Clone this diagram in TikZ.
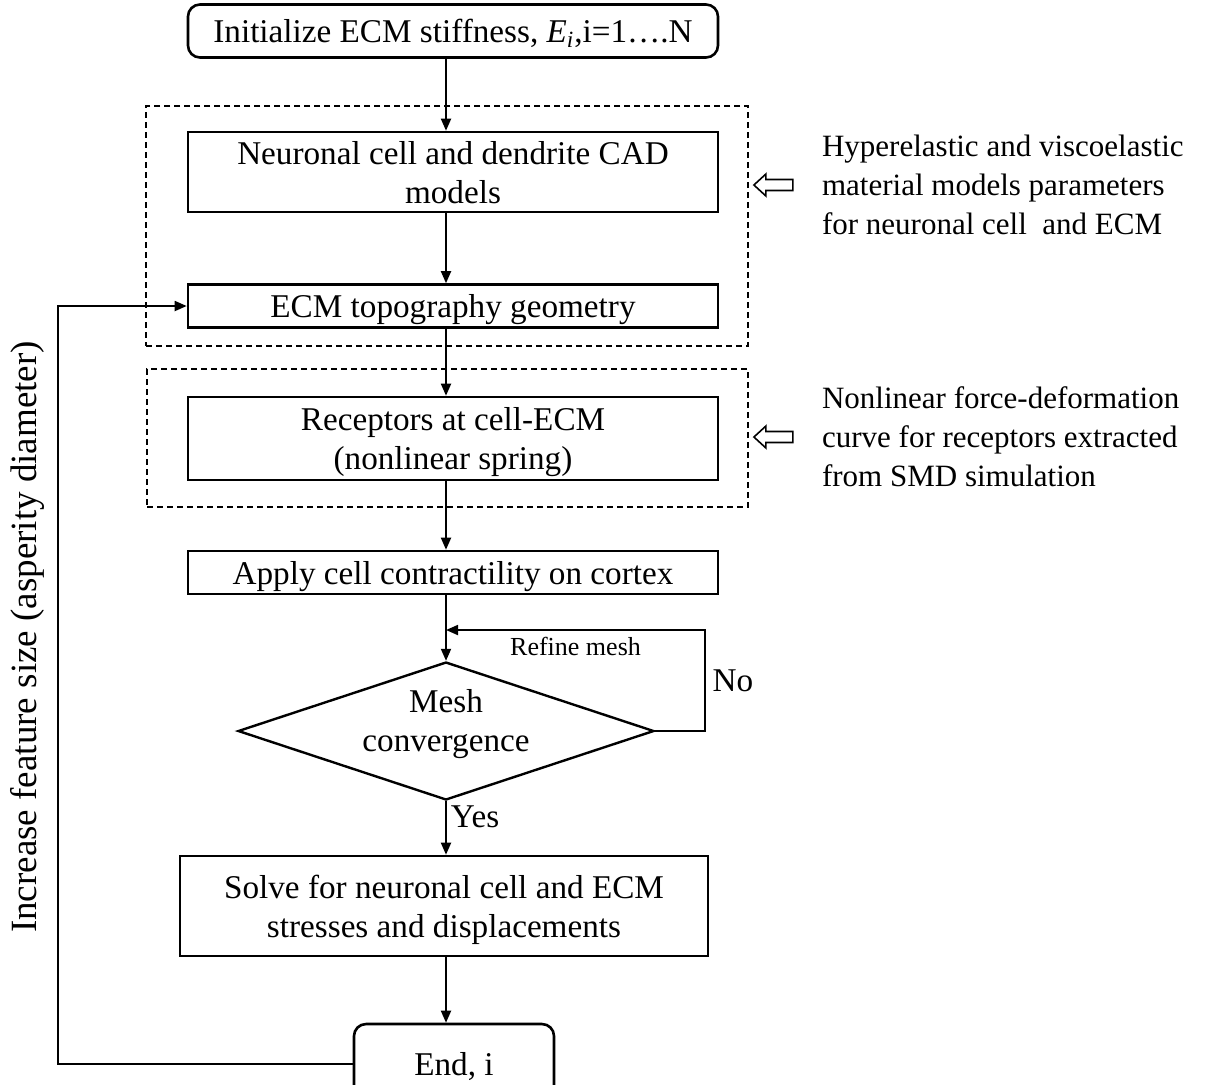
\documentclass[tikz,border=0pt]{standalone}
\usepackage{fontspec}
\setmainfont{Liberation Serif}
\usetikzlibrary{positioning,arrows.meta,shapes.geometric}

\begin{document}
\begin{tikzpicture}[x=0.5pt,y=-0.5pt,
  font=\fontsize{16.6}{19.5}\selectfont,
  stepbox/.style={
    draw,
    line width=1.3pt,
    align=center,
    inner sep=0pt,
    text depth=0pt,
    minimum width=265pt
  },
  endbox/.style={stepbox, rounded corners=6pt},
  group/.style={
    draw,
    line width=0.9pt,
    dash pattern=on 3pt off 2pt,
    inner sep=0pt
  },
  decision/.style={
    diamond,
    draw,
    line width=1.2pt,
    inner sep=0pt,
    shape aspect=3,
    minimum width=208pt,
    minimum height=69pt
  },
  note/.style={anchor=west, align=left, font=\fontsize{15.5}{19.5}\selectfont},
  flow/.style={-{Triangle[length=6pt,width=5pt]}, line width=0.9pt},
  hollow/.style={draw, line width=0.8pt, line join=miter}
]
  \useasboundingbox (0,0) rectangle (1224,1084);
  % helper points for the connectors
  \coordinate (axis) at (446,0);
  \coordinate (back) at (58,0);
  \coordinate (loop) at (705,630);
  \coordinate (join) at (446,630);

  % dashed groups
  \node[group, minimum width=301pt, minimum height=120pt] (grpA) at (447,226) {};
  \node[group, minimum width=300.5pt, minimum height=69pt] (grpB) at (447.5,438) {};

  % main column
  \node[endbox, minimum height=26.5pt] (init) at (453,31)
    {Initialize ECM stiffness, \textit{E}\textsubscript{\textit{i}},i=1….N};
  \node[stepbox, minimum height=40pt] (cad) at (453,172)
    {Neuronal cell and dendrite CAD\\models};
  \node[stepbox, minimum height=21.5pt] (topo) at (453,306)
    {ECM topography geometry};
  \node[stepbox, minimum height=41.5pt] (recep) at (453,438.5)
    {Receptors at cell-ECM\\(nonlinear spring)};
  \node[stepbox, minimum height=21.5pt] (apply) at (453,572.5)
    {Apply cell contractility on cortex};
  \node[decision] (mesh) at (446,731)
    {\raisebox{-1pt}[0pt][0pt]{\begin{tabular}{@{}c@{}}Mesh\\convergence\end{tabular}}};
  \node[stepbox, minimum width=264pt, minimum height=50pt] (solve) at (444,906)
    {Solve for neuronal cell and ECM\\stresses and displacements};
  \node[endbox, minimum width=100pt, minimum height=40pt] (end) at (454,1064) {End, i};

  % side notes
  \node[note] (hyper) at (815,185)
    {Hyperelastic and viscoelastic\\material models parameters\\for neuronal cell~ and ECM};
  \node[note] (nonlin) at (815,437)
    {Nonlinear force-deformation\\curve for receptors extracted\\from SMD simulation};
  \node[rotate=90, font=\fontsize{18.5}{22}\selectfont] (incr) at (27,637)
    {Increase feature size (asperity diameter)};

  \draw[flow] (init.south -| axis) -- (cad.north -| axis);
  \draw[flow] (cad.south -| axis) -- (topo.north -| axis);
  \draw[flow] (topo.south -| axis) -- (recep.north -| axis);
  \draw[flow] (recep.south -| axis) -- (apply.north -| axis);
  \draw[flow] (apply.south -| axis) -- (mesh.north);
  \draw[flow] (mesh.south) -- node[right, pos=0.3, inner sep=2pt] (yes) {Yes} (solve.north -| mesh);
  \draw[flow] (solve.south -| axis) -- (end.north -| axis);
  \draw[flow] (mesh.east) -| node[pos=0.75, right] (no) {No} (loop)
    -- node[below, font=\fontsize{13}{15}\selectfont] (refine) {Refine mesh} (join);
  \draw[flow] (end.west) -- (end.west -| back) |- (topo.west);

  % hollow input arrows
  \path[hollow] ([xshift=2.5pt]grpA.east |- hyper.west) -- ++(12,-11) -- ++(0,5.5) -- ++(27,0)
    -- ++(0,11) -- ++(-27,0) -- ++(0,5.5) -- cycle;
  \path[hollow] ([xshift=2.5pt]grpB.east |- nonlin.west) -- ++(12,-11) -- ++(0,5.5) -- ++(27,0)
    -- ++(0,11) -- ++(-27,0) -- ++(0,5.5) -- cycle;
\end{tikzpicture}
\end{document}
